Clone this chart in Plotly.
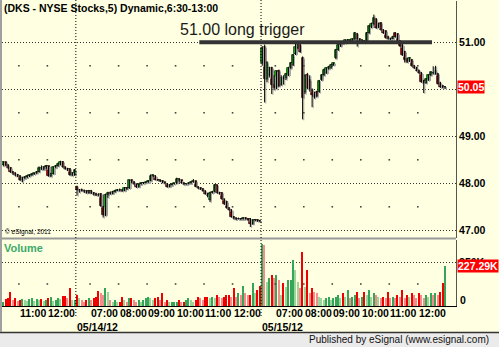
import plotly.graph_objects as go

W, H = 499, 347
FONT = "Liberation Sans, Arial, sans-serif"

# ---------------- data ----------------
SESSION_START = "06:30"
BAR_MIN = 5
BARS_PER_DAY = 78
day_dates = ["05/11/12", "05/14/12", "05/15/12"]
day_offset = [-78, 0, 78]          # session index offset (in bars)
day_first_bar = ["10:25", "06:30", "06:30"]

# 05/11 (partial, 10:25-12:55)
d0_o = [48.38,48.45,48.38,48.32,48.24,48.21,48.17,48.15,48.08,48.11,48.13,48.16,48.18,48.20,48.22,48.24,
        48.32,48.30,48.34,48.36,48.16,48.20,48.34,48.37,48.40,48.46,48.35,48.31,48.30,48.18,48.18]
d0_h = [48.47,48.46,48.40,48.34,48.26,48.23,48.20,48.17,48.14,48.15,48.17,48.19,48.21,48.23,48.26,48.36,
        48.38,48.36,48.39,48.37,48.22,48.36,48.39,48.44,48.48,48.47,48.36,48.33,48.32,48.24,48.30]
d0_l = [48.36,48.36,48.30,48.22,48.18,48.15,48.13,48.05,48.02,48.09,48.11,48.13,48.16,48.18,48.20,48.23,
        48.28,48.28,48.31,48.14,48.13,48.19,48.32,48.35,48.38,48.33,48.29,48.26,48.16,48.15,48.16]
d0_c = [48.45,48.38,48.32,48.24,48.21,48.17,48.15,48.08,48.11,48.13,48.16,48.18,48.20,48.22,48.24,48.32,
        48.30,48.34,48.36,48.16,48.20,48.34,48.37,48.42,48.46,48.35,48.31,48.30,48.18,48.21,48.28]
d0_v = [20,38,44,81,34,44,30,34,38,34,28,42,44,30,42,34,38,30,34,44,53,30,34,44,38,57,57,44,100,34,34]

# 05/14
d1_o = [47.92,47.85,47.86,47.84,47.83,47.80,47.84,47.79,47.77,47.76,
        47.78,47.50,47.32,47.76,47.80,47.78,47.82,47.84,47.86,47.85,
        47.84,47.90,47.90,48.06,48.02,47.98,47.92,47.98,48.00,48.01,
        48.02,48.05,48.16,48.16,48.08,48.07,48.05,48.02,47.99,47.93,
        47.96,47.99,48.00,48.10,48.06,48.00,47.98,47.99,48.00,48.02,
        48.04,47.93,47.90,47.88,47.84,47.78,47.64,47.80,47.82,47.96,
        47.80,47.80,47.66,47.60,47.48,47.44,47.28,47.26,47.24,47.25,
        47.24,47.26,47.25,47.24,47.14,47.22,47.22,47.20]
d1_h = [47.95,47.88,47.89,47.87,47.85,47.86,47.86,47.81,47.80,47.79,
        47.79,47.52,47.78,47.82,47.83,47.84,47.86,47.88,47.89,47.87,
        47.92,47.92,48.08,48.08,48.04,47.99,47.99,48.02,48.03,48.04,
        48.07,48.19,48.19,48.17,48.09,48.08,48.06,48.03,48.00,47.98,
        48.00,48.01,48.12,48.11,48.07,48.01,48.00,48.02,48.04,48.09,
        48.05,47.94,47.91,47.89,47.85,47.79,47.82,47.84,47.98,47.97,
        47.82,47.81,47.67,47.62,47.49,47.45,47.30,47.27,47.27,47.26,
        47.28,47.27,47.26,47.26,47.23,47.24,47.23,47.22]
d1_l = [47.74,47.80,47.83,47.80,47.78,47.78,47.77,47.74,47.73,47.72,
        47.50,47.27,47.30,47.69,47.76,47.77,47.80,47.83,47.83,47.82,
        47.83,47.86,47.88,48.00,47.97,47.90,47.91,47.97,47.98,48.00,
        48.01,48.04,48.13,48.06,48.05,48.03,48.00,47.98,47.91,47.92,
        47.95,47.97,47.99,48.04,47.99,47.96,47.97,47.98,47.99,48.01,
        47.92,47.88,47.86,47.82,47.76,47.70,47.60,47.78,47.81,47.79,
        47.76,47.65,47.54,47.46,47.42,47.27,47.23,47.22,47.23,47.22,
        47.23,47.23,47.20,47.07,47.12,47.19,47.18,47.17]
d1_c = [47.85,47.86,47.84,47.83,47.80,47.84,47.79,47.77,47.76,47.75,
        47.52,47.32,47.76,47.80,47.78,47.82,47.84,47.86,47.85,47.84,
        47.90,47.88,48.06,48.02,47.98,47.92,47.98,48.00,48.01,48.02,
        48.05,48.16,48.17,48.08,48.07,48.05,48.02,48.00,47.93,47.96,
        47.99,48.00,48.10,48.06,48.00,47.98,47.99,48.00,48.02,48.04,
        47.93,47.90,47.88,47.84,47.78,47.72,47.80,47.82,47.96,47.80,
        47.78,47.66,47.56,47.48,47.44,47.28,47.26,47.24,47.25,47.24,
        47.26,47.25,47.22,47.14,47.22,47.22,47.20,47.19]
d1_v = [62,44,34,25,34,44,34,44,53,86,76,62,105,81,34,25,34,25,25,53,
        34,25,44,44,34,25,34,25,34,44,53,44,34,44,53,34,72,25,34,25,
        25,25,25,34,25,25,34,44,34,25,34,53,44,34,53,53,44,53,44,62,
        53,44,53,62,62,53,100,53,72,62,114,72,62,62,133,72,90,114]

# 05/15
d2_o = [50.55,50.90,50.22,50.30,50.45,50.10,50.05,50.40,50.10,50.24,
        50.25,50.30,50.45,50.52,50.75,50.88,50.95,50.66,49.95,50.30,
        50.20,49.98,49.88,49.95,49.95,50.20,50.30,50.35,50.44,50.46,
        50.52,50.66,50.84,50.92,51.00,50.98,51.03,51.05,51.02,51.06,
        51.18,51.06,51.02,51.03,51.02,51.20,51.32,51.38,51.49,51.32,
        51.41,51.27,51.24,51.12,51.08,51.08,51.20,51.17,51.02,50.95,
        50.80,50.64,50.60,50.62,50.50,50.46,50.40,50.35,50.18,50.14,
        50.20,50.30,50.35,50.33,50.32,50.14,50.06,50.04]
d2_h = [50.92,50.95,50.60,50.48,50.48,50.30,50.40,50.42,50.30,50.30,
        50.35,50.48,50.58,50.75,50.97,50.98,50.96,50.70,50.32,50.35,
        50.30,50.02,49.95,49.97,50.20,50.32,50.44,50.47,50.50,50.54,
        50.57,50.86,50.97,51.02,51.03,51.06,51.07,51.06,51.08,51.22,
        51.20,51.08,51.06,51.05,51.22,51.36,51.42,51.59,51.51,51.42,
        51.43,51.28,51.25,51.14,51.10,51.14,51.22,51.19,51.04,50.97,
        50.82,50.66,50.68,50.64,50.52,50.48,50.42,50.37,50.20,50.24,
        50.32,50.38,50.49,50.50,50.34,50.16,50.08,50.07]
d2_l = [50.50,49.72,50.15,50.25,49.90,49.98,50.00,50.05,50.08,50.10,
        50.20,50.28,50.43,50.50,50.73,50.85,50.78,49.36,49.90,50.00,
        49.95,49.62,49.80,49.83,49.93,50.18,50.28,50.33,50.42,50.44,
        50.50,50.64,50.82,50.90,50.96,50.97,51.01,51.01,51.00,51.04,
        50.91,51.00,51.00,50.98,51.00,51.18,51.30,51.36,51.29,51.30,
        51.25,51.18,51.08,51.06,51.05,51.07,51.10,51.00,50.90,50.71,
        50.57,50.56,50.58,50.48,50.43,50.38,50.33,50.14,49.92,50.12,
        50.18,50.28,50.32,50.31,50.10,50.03,50.02,50.01]
d2_c = [50.88,50.22,50.55,50.45,50.10,50.02,50.38,50.08,50.25,50.22,
        50.32,50.45,50.55,50.72,50.90,50.95,50.80,49.82,50.28,50.02,
        50.00,49.88,49.84,49.85,50.18,50.30,50.42,50.45,50.48,50.52,
        50.55,50.84,50.95,51.00,50.98,51.04,51.05,51.03,51.06,51.20,
        51.06,51.02,51.04,51.00,51.20,51.34,51.40,51.52,51.31,51.40,
        51.27,51.20,51.10,51.08,51.07,51.12,51.12,51.02,50.92,50.73,
        50.62,50.59,50.66,50.50,50.45,50.40,50.35,50.16,50.14,50.22,
        50.30,50.36,50.34,50.40,50.12,50.05,50.04,50.05]
d2_v = [352,346,138,157,176,157,176,148,62,129,110,148,148,261,204,138,100,309,110,204,
        72,100,81,72,53,44,34,44,53,34,44,53,62,44,72,53,91,44,53,62,
        81,44,53,81,62,91,53,72,62,53,44,53,44,81,44,53,44,62,53,91,
        44,62,53,72,62,44,72,62,44,62,53,72,62,72,62,81,129,227.29]

hour_labels = [["11:00", "12:00"],
               ["07:00", "08:00", "09:00", "10:00", "11:00", "12:00"],
               ["07:00", "08:00", "09:00", "10:00", "11:00", "12:00"]]
price_ticks = [47, 48, 49, 50, 51]
price_dots = [47.5, 48.5, 49.5, 50.5]
vol_ticks = [250]
vol_dots = [125]

TRIGGER = 51.00
trigger_from = (1, "10:50")
trigger_to = (2, "12:30")
title = "(DKS - NYSE Stocks,5) Dynamic,6:30-13:00"

# ---------------- helpers ----------------
def mins(t):
    h, m = t.split(":")
    return int(h) * 60 + int(m)

def slot(day, t):
    return day_offset[day] + (mins(t) - mins(SESSION_START)) / BAR_MIN

def px(p):
    return p / W

def py(p):
    return 1 - p / H

days = [(d0_o, d0_h, d0_l, d0_c, d0_v), (d1_o, d1_h, d1_l, d1_c, d1_v), (d2_o, d2_h, d2_l, d2_c, d2_v)]
X, O, Hi, Lo, C, V = [], [], [], [], [], []
for di, (o, h, l, c, v) in enumerate(days):
    s0 = slot(di, day_first_bar[di])
    for i in range(len(o)):
        X.append(s0 + i + 0.5)
        O.append(o[i]); Hi.append(h[i]); Lo.append(l[i]); C.append(c[i]); V.append(v[i])

up = [c >= o for o, c in zip(O, C)]

# ---------------- figure ----------------
fig = go.Figure()

SH_DX, SH_DY = 0.5, 0.022
# shadow
wx, wy = [], []
for x, h, l in zip(X, Hi, Lo):
    wx += [x + SH_DX, x + SH_DX, None]
    wy += [h - SH_DY, l - SH_DY, None]
fig.add_trace(go.Scatter(x=wx, y=wy, mode="lines", line=dict(color="#AAAAAA", width=1),
                         hoverinfo="skip", xaxis="x", yaxis="y"))
fig.add_trace(go.Bar(x=[x + SH_DX for x in X],
                     y=[max(abs(c - o), 0.008) for o, c in zip(O, C)],
                     base=[min(o, c) - SH_DY for o, c in zip(O, C)],
                     width=0.9, marker=dict(color="#AAAAAA", line=dict(width=0)),
                     hoverinfo="skip", xaxis="x", yaxis="y"))
# wicks
wx, wy = [], []
for x, h, l in zip(X, Hi, Lo):
    wx += [x, x, None]
    wy += [h, l, None]
fig.add_trace(go.Scatter(x=wx, y=wy, mode="lines", line=dict(color="#000000", width=1),
                         hoverinfo="skip", xaxis="x", yaxis="y"))
# bodies
fig.add_trace(go.Bar(x=X, y=[max(abs(c - o), 0.008) for o, c in zip(O, C)],
                     base=[min(o, c) for o, c in zip(O, C)], width=0.9,
                     marker=dict(color=["#00CC00" if u else "#CC0000" for u in up],
                                 line=dict(color="#000000", width=0.7)),
                     hoverinfo="skip", xaxis="x", yaxis="y"))

# volume
vcol = []
for i, u in enumerate(up):
    rising = i == 0 or V[i] >= V[i - 1]
    if u:
        vcol.append("#35A55A" if rising else "#9AD69A")
    else:
        vcol.append("#F00000" if rising else "#F58C8C")
fig.add_trace(go.Bar(x=X, y=V, width=0.55, marker=dict(color=vcol, line=dict(width=0)),
                     hoverinfo="skip", xaxis="x", yaxis="y2"))

# grid dots at hour positions
hour_slots = []
for di, labs in enumerate(hour_labels):
    for lab in labs:
        hour_slots.append(slot(di, lab))
fig.add_trace(go.Scatter(x=[s for s in hour_slots for _ in price_dots],
                         y=[p for _ in hour_slots for p in price_dots],
                         mode="markers", marker=dict(symbol="square", size=1.6, color="#444444"),
                         hoverinfo="skip", xaxis="x", yaxis="y"))
fig.add_trace(go.Scatter(x=[s for s in hour_slots for _ in vol_dots],
                         y=[p for _ in hour_slots for p in vol_dots],
                         mode="markers", marker=dict(symbol="square", size=1.6, color="#444444"),
                         hoverinfo="skip", xaxis="x", yaxis="y2"))

x_lo = slot(0, day_first_bar[0]) - 0.1
x_hi = slot(2, "13:00") + 4.1

fig.update_layout(
    width=W, height=H, margin=dict(l=0, r=0, t=0, b=0),
    paper_bgcolor="#FFFFE1", plot_bgcolor="#FFFFE1",
    showlegend=False, barmode="overlay", bargap=0,
    font=dict(family=FONT, color="#000000"),
    xaxis=dict(domain=[px(2), px(456)], range=[x_lo, x_hi], anchor="y2",
               showgrid=False, zeroline=False, showticklabels=False,
               showline=True, linecolor="#000000", linewidth=1, fixedrange=True),
    yaxis=dict(domain=[py(238), py(1)], range=[46.836, 51.879], anchor="x", side="right",
               tickvals=price_ticks,
               ticktext=["%.2f" % t if t != 50 else "" for t in price_ticks],
               tickfont=dict(size=10.5, family=FONT, weight="bold", color="#000000"),
               ticks="", showgrid=True, gridcolor="#333333", gridwidth=1, griddash="1px,2px",
               zeroline=False, showline=True, linecolor="#555555", linewidth=1, fixedrange=True),
    yaxis2=dict(domain=[py(306), py(240)], range=[0, 375], anchor="x", side="right",
                tickvals=vol_ticks, ticktext=["%dK" % t for t in vol_ticks],
                tickfont=dict(size=10.5, family=FONT, weight="bold", color="#000000"),
                ticks="", showgrid=True, gridcolor="#333333", gridwidth=1, griddash="1px,2px",
                zeroline=False, showline=True, linecolor="#555555", linewidth=1, fixedrange=True),
)

shapes = []
# bottom band
shapes.append(dict(type="rect", xref="paper", yref="paper", x0=0, x1=1, y0=0, y1=py(332),
                   fillcolor="#EBEBEB", line=dict(width=0), layer="above"))
shapes.append(dict(type="line", xref="paper", yref="paper", x0=0, x1=1, y0=py(332.5), y1=py(332.5),
                   line=dict(color="#333333", width=1.5)))
# left border
shapes.append(dict(type="line", xref="paper", yref="paper", x0=px(1), x1=px(1), y0=py(0), y1=py(332),
                   line=dict(color="#A0A0A0", width=2)))
# panel separator
shapes.append(dict(type="line", xref="paper", yref="paper", x0=px(2), x1=px(456), y0=py(238.5), y1=py(238.5),
                   line=dict(color="#999999", width=2)))
# day separators
for di in (1, 2):
    s = slot(di, SESSION_START)
    shapes.append(dict(type="line", xref="x", yref="paper", x0=s, x1=s, y0=py(316), y1=py(0),
                       line=dict(color="#000000", width=1, dash="1px,2px")))
# trigger line
shapes.append(dict(type="line", xref="x", yref="y",
                   x0=slot(*trigger_from), x1=slot(*trigger_to), y0=TRIGGER, y1=TRIGGER,
                   line=dict(color="#333333", width=4)))
fig.update_layout(shapes=shapes)

ann = []
ann.append(dict(text=title, x=px(2), y=py(8), xref="paper", yref="paper", xanchor="left", yanchor="middle",
                showarrow=False, font=dict(size=10.5, family=FONT, weight="bold", color="#000000")))
ann.append(dict(text="%.2f long trigger" % TRIGGER, x=px(178), y=py(29), xref="paper", yref="paper",
                xanchor="left", yanchor="middle", showarrow=False,
                font=dict(size=16, family=FONT, color="#1A1A1A")))
ann.append(dict(text="© eSignal, 2011", x=px(3), y=py(232), xref="paper", yref="paper",
                xanchor="left", yanchor="middle", showarrow=False,
                font=dict(size=6.5, family=FONT, color="#000000")))
ann.append(dict(text="Volume", x=px(2), y=py(248), xref="paper", yref="paper",
                xanchor="left", yanchor="middle", showarrow=False,
                font=dict(size=11, family=FONT, weight="bold", color="#3DAA6A")))
ann.append(dict(text="%.2f" % C[-1], x=px(456.5), y=C[-1], xref="paper", yref="y",
                xanchor="left", yanchor="middle", showarrow=False, bgcolor="#FF0000", borderpad=0,
                font=dict(size=10.5, family=FONT, weight="bold", color="#FFFFFF")))
ann.append(dict(text="%.2fK" % V[-1], x=px(456.5), y=V[-1], xref="paper", yref="y2",
                xanchor="left", yanchor="middle", showarrow=False, bgcolor="#FF0000", borderpad=0,
                font=dict(size=10.5, family=FONT, weight="bold", color="#FFFFFF")))
ann.append(dict(text="0", x=px(458), y=py(300), xref="paper", yref="paper",
                xanchor="left", yanchor="middle", showarrow=False,
                font=dict(size=10.5, family=FONT, weight="bold", color="#000000")))
for di, labs in enumerate(hour_labels):
    for lab in labs:
        ann.append(dict(text=lab, x=slot(di, lab), y=py(312.5), xref="x", yref="paper",
                        xanchor="left", yanchor="middle", showarrow=False, xshift=-1,
                        font=dict(size=10.5, family=FONT, weight="bold", color="#000000")))
for di in (1, 2):
    ann.append(dict(text=day_dates[di], x=slot(di, SESSION_START), y=py(326.5), xref="x", yref="paper",
                    xanchor="left", yanchor="middle", showarrow=False, xshift=-1,
                    font=dict(size=10.5, family=FONT, weight="bold", color="#000000")))
ann.append(dict(text="Published by eSignal (www.esignal.com)", x=px(491), y=py(339.5),
                xref="paper", yref="paper", xanchor="right", yanchor="middle", showarrow=False,
                font=dict(size=10, family=FONT, color="#111111")))
fig.update_layout(annotations=ann)

fig.write_html("out.html")
